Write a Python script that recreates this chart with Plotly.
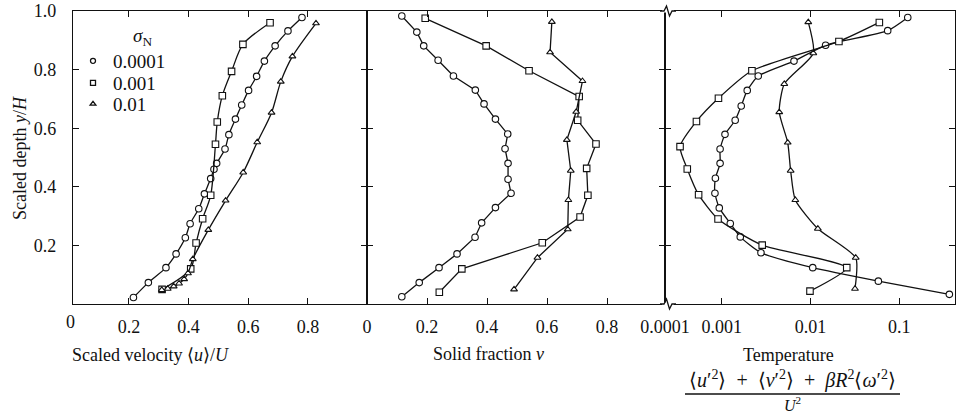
import numpy as np
import plotly.graph_objects as go

# ---------------- data ----------------
legend_labels = ["0.0001", "0.001", "0.01"]

# Panel 1: scaled velocity <u>/U vs y/H
vel_c_x = [0.215, 0.265, 0.324, 0.358, 0.389, 0.405, 0.434, 0.453, 0.474, 0.485, 0.494, 0.522, 0.535, 0.557, 0.578, 0.601, 0.628, 0.654, 0.690, 0.733, 0.780]
vel_c_y = [0.022, 0.073, 0.124, 0.171, 0.226, 0.274, 0.325, 0.376, 0.428, 0.460, 0.480, 0.529, 0.578, 0.631, 0.679, 0.729, 0.777, 0.829, 0.881, 0.932, 0.978]
vel_s_x = [0.311, 0.407, 0.425, 0.447, 0.474, 0.490, 0.496, 0.513, 0.544, 0.582, 0.673]
vel_s_y = [0.050, 0.120, 0.208, 0.291, 0.371, 0.545, 0.621, 0.711, 0.794, 0.886, 0.960]
vel_t_x = [0.310, 0.330, 0.350, 0.368, 0.385, 0.398, 0.414, 0.466, 0.524, 0.583, 0.630, 0.678, 0.709, 0.748, 0.827]
vel_t_y = [0.048, 0.052, 0.060, 0.070, 0.085, 0.105, 0.153, 0.253, 0.353, 0.449, 0.552, 0.653, 0.759, 0.845, 0.958]

# Panel 2: solid fraction nu vs y/H
sf_c_x = [0.116, 0.174, 0.240, 0.300, 0.360, 0.382, 0.428, 0.480, 0.470, 0.470, 0.460, 0.469, 0.428, 0.390, 0.361, 0.288, 0.237, 0.189, 0.166, 0.116]
sf_c_y = [0.025, 0.073, 0.124, 0.171, 0.228, 0.277, 0.329, 0.378, 0.426, 0.480, 0.530, 0.580, 0.631, 0.683, 0.730, 0.778, 0.832, 0.881, 0.928, 0.983]
sf_s_x = [0.241, 0.316, 0.584, 0.710, 0.736, 0.732, 0.763, 0.702, 0.707, 0.540, 0.397, 0.194]
sf_s_y = [0.040, 0.120, 0.209, 0.297, 0.371, 0.463, 0.546, 0.627, 0.708, 0.796, 0.881, 0.975]
sf_t_x = [0.490, 0.568, 0.669, 0.671, 0.679, 0.666, 0.697, 0.718, 0.610, 0.616]
sf_t_y = [0.050, 0.158, 0.255, 0.355, 0.455, 0.560, 0.656, 0.761, 0.859, 0.963]

# Panel 3: temperature vs y/H (log x)
tp_c_x = [0.366, 0.0581, 0.0106, 0.00277, 0.00162, 0.00125, 0.00094, 0.00084, 0.00085, 0.00096, 0.00096, 0.00109, 0.00142, 0.00166, 0.00194, 0.00258, 0.00652, 0.0148, 0.0740, 0.1245]
tp_c_y = [0.033, 0.078, 0.124, 0.175, 0.229, 0.275, 0.328, 0.378, 0.429, 0.480, 0.529, 0.579, 0.627, 0.676, 0.729, 0.778, 0.829, 0.883, 0.933, 0.978]
tp_s_x = [0.00987, 0.0256, 0.00286, 0.00091, 0.00055, 0.00041, 0.00034, 0.00052, 0.00092, 0.00219, 0.0209, 0.0596]
tp_s_y = [0.044, 0.124, 0.201, 0.290, 0.373, 0.461, 0.537, 0.623, 0.702, 0.796, 0.896, 0.961]
tp_t_x = [0.0317, 0.0323, 0.0121, 0.00675, 0.00598, 0.00554, 0.00445, 0.00507, 0.01076, 0.00944]
tp_t_y = [0.052, 0.158, 0.257, 0.355, 0.455, 0.551, 0.655, 0.751, 0.856, 0.962]

y_ticks = [0.2, 0.4, 0.6, 0.8, 1.0]
y_ticktext = ["0.2", "0.4", "0.6", "0.8", "1.0"]
vel_ticks = [0.2, 0.4, 0.6, 0.8]
sf_ticks = [0, 0.2, 0.4, 0.6, 0.8]
tp_log_range = [-3.638, -0.373]
tp_ticks = [10 ** tp_log_range[0], 0.001, 0.01, 0.1]
tp_ticktext = ["0.0001", "0.001", "0.01", "0.1"]

# ---------------- figure ----------------
FONT = "Liberation Serif, Times New Roman, serif"
BLACK = "#111111"
fig = go.Figure()

def add(x, y, sym, size, xa, ya, shape="linear", smooth=1.0):
    line = dict(color=BLACK, width=1.3, shape=shape)
    if shape == "spline":
        line["smoothing"] = smooth
    fig.add_trace(go.Scatter(
        x=x, y=y, mode="lines+markers", xaxis=xa, yaxis=ya, showlegend=False,
        line=line, cliponaxis=False,
        marker=dict(symbol=sym, size=size, color="white", line=dict(color=BLACK, width=1.1)),
        hoverinfo="skip"))

# panel 1
add(vel_c_x, vel_c_y, "circle", 6.5, "x", "y", "spline", 0.8)
add(vel_s_x, vel_s_y, "square", 6.5, "x", "y", "spline", 0.8)
add(vel_t_x, vel_t_y, "triangle-up", 6, "x", "y", "spline", 0.8)
# panel 2
add(sf_c_x, sf_c_y, "circle", 6.5, "x2", "y2")
add(sf_s_x, sf_s_y, "square", 6.5, "x2", "y2")
add(sf_t_x, sf_t_y, "triangle-up", 6, "x2", "y2")
# panel 3
add(tp_c_x, tp_c_y, "circle", 6.5, "x3", "y3", "spline", 0.6)
add(tp_s_x, tp_s_y, "square", 6.5, "x3", "y3", "spline", 0.6)
add(tp_t_x, tp_t_y, "triangle-up", 6, "x3", "y3", "spline", 0.6)

W, H = 956, 416
L, T = 73, 11
R = W - 955
B = H - 304
PW = W - L - R
PH = H - T - B
d1 = (367 - L) / PW
d2 = (665 - L) / PW

def px_x(p):
    return (p - L) / PW

def px_y(p):
    return 1 - (p - T) / PH

# legend entries (markers only), one small legend per row so rows sit tight
legend_names = ["legend", "legend2", "legend3"]
legend_rows = [60, 82, 103]
for lab, sym, lg in zip(legend_labels, ["circle", "square", "triangle-up"], legend_names):
    fig.add_trace(go.Scatter(
        x=[None], y=[None], mode="markers", name=lab, xaxis="x", yaxis="y", legend=lg,
        marker=dict(symbol=sym, size=5, color="white", line=dict(color=BLACK, width=1.3))))

common = dict(showline=True, linecolor=BLACK, linewidth=1.2, mirror="ticks",
              ticks="inside", ticklen=6, tickwidth=1.2, tickcolor=BLACK,
              showgrid=False, zeroline=False, automargin=False,
              tickfont=dict(family=FONT, size=18, color=BLACK))

legend_layout = {}
for lg, row in zip(legend_names, legend_rows):
    legend_layout[lg] = dict(x=px_x(73), y=px_y(row - 18), xanchor="left", yanchor="top",
                             bgcolor="rgba(0,0,0,0)", borderwidth=0,
                             font=dict(family=FONT, size=19, color=BLACK), itemwidth=30)

fig.update_layout(
    width=W, height=H,
    margin=dict(l=L, r=R, t=T, b=B, autoexpand=False),
    paper_bgcolor="white", plot_bgcolor="white",
    font=dict(family=FONT, size=18, color=BLACK),
    xaxis=dict(domain=[0, d1], range=[0.0124, 0.998], tickvals=vel_ticks,
               ticktext=["0.2", "0.4", "0.6", "0.8"], ticklabelstandoff=6, **common),
    xaxis2=dict(domain=[d1, d2], range=[0, 0.993], tickvals=sf_ticks,
                ticktext=["0", "0.2", "0.4", "0.6", "0.8"], anchor="y2", ticklabelstandoff=6, **common),
    xaxis3=dict(domain=[d2, 1], type="log", range=tp_log_range, tickvals=tp_ticks,
                ticktext=tp_ticktext, anchor="y3", ticklabelstandoff=6, **common),
    yaxis=dict(domain=[0, 1], range=[0, 1.0], tickvals=y_ticks, ticktext=y_ticktext,
               ticklabelstandoff=12, ticklabeloverflow="allow", **common),
    yaxis2=dict(domain=[0, 1], range=[0, 1.0], tickvals=y_ticks, showticklabels=False,
                anchor="x2", **common),
    yaxis3=dict(domain=[0, 1], range=[0, 1.0], tickvals=y_ticks, showticklabels=False,
                anchor="x3", **common),
    **legend_layout,
)

SP = "\u2002"
ann = [
    dict(text="Scaled depth <i>y</i>/<i>H</i>", x=px_x(20), y=px_y(158), textangle=-90, size=18),
    dict(text="<i>σ</i><sub>N</sub>", x=px_x(142), y=px_y(37), size=19),
    dict(text="0", x=px_x(70), y=px_y(322), size=18),
    dict(text="Scaled velocity ⟨<i>u</i>⟩/<i>U</i>", x=px_x(150), y=px_y(355), size=18),
    dict(text="Solid fraction <i>ν</i>", x=px_x(488), y=px_y(354), size=18),
    dict(text="Temperature", x=px_x(788), y=px_y(355), size=18),
    dict(text=f"⟨<i>u</i>′<sup>2</sup>⟩{SP}+{SP}⟨<i>v</i>′<sup>2</sup>⟩{SP}+{SP}<i>βR</i><sup>2</sup>⟨<i>ω</i>′<sup>2</sup>⟩",
         x=px_x(792), y=px_y(379), size=20),
    dict(text="<i>U</i><sup>2</sup>", x=px_x(792), y=px_y(404), size=16),
]
for a in ann:
    size = a.pop("size")
    fig.add_annotation(xref="paper", yref="paper", showarrow=False,
                       xanchor="center", yanchor="middle", borderpad=0,
                       font=dict(family=FONT, size=size, color=BLACK), **a)

# fraction bar and axis-break marks (decoration)
fig.add_shape(type="line", xref="paper", yref="paper",
              x0=px_x(685), x1=px_x(900), y0=px_y(394), y1=px_y(394),
              line=dict(color=BLACK, width=1.3))
for yb in (11, 304):
    pts = [(660, yb), (664, yb), (666.5, yb - 5), (669.5, yb + 5), (672, yb), (676, yb)]
    path = "M " + " L ".join(f"{px_x(a)},{px_y(b)}" for a, b in pts)
    fig.add_shape(type="line", xref="paper", yref="paper",
                  x0=px_x(662), x1=px_x(674), y0=px_y(yb), y1=px_y(yb),
                  line=dict(color="white", width=3), layer="above")
    fig.add_shape(type="path", xref="paper", yref="paper", path=path,
                  line=dict(color=BLACK, width=1.3), fillcolor="rgba(0,0,0,0)", layer="above")

# remove the browser's default 8px page margin so the figure sits at (0, 0)
fig.write_html("out.html", config={"displayModeBar": False},
               post_script="document.body.style.margin='0px';")
